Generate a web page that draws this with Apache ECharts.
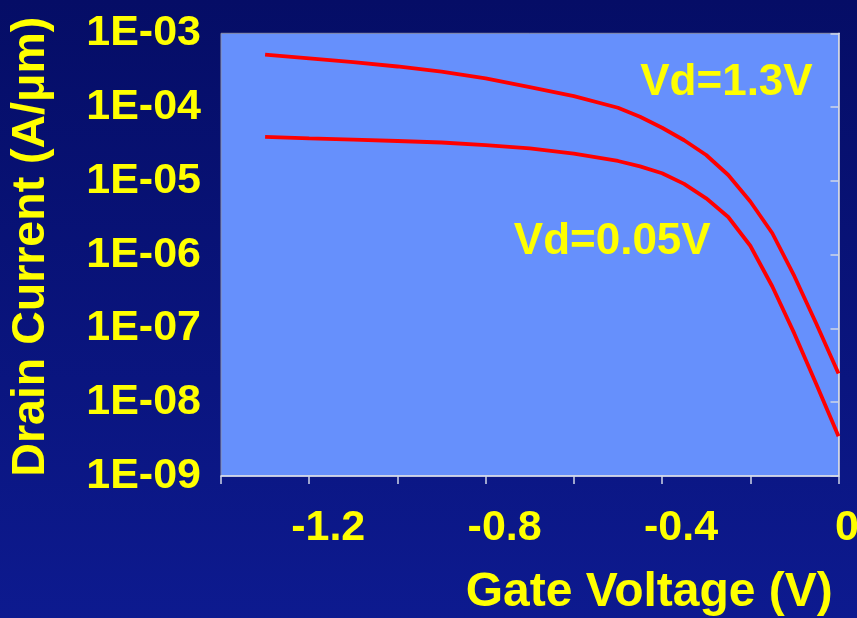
<!DOCTYPE html>
<html>
<head>
<meta charset="utf-8">
<script src="https://cdn.jsdelivr.net/npm/echarts@6/dist/echarts.min.js"></script>
<style>
  html, body { margin: 0; padding: 0; background: #08117a; }
  #chart { width: 857px; height: 618px; }
</style>
</head>
<body>
<div id="chart"></div>
<script>
// Gate voltage sweep (V)
const gateVoltage = [-1.3, -1.2, -1.1, -1.0, -0.9, -0.8, -0.7, -0.6, -0.5, -0.45,
                     -0.4, -0.35, -0.3, -0.25, -0.2, -0.15, -0.1, -0.05, 0];

// Drain current (A/um) at Vd = 1.3 V
const currentVd13 = [5.13e-4, 4.57e-4, 4.07e-4, 3.55e-4, 3.02e-4, 2.45e-4, 1.86e-4, 1.41e-4,
                     9.8e-5, 7.4e-5, 5.25e-5, 3.55e-5, 2.24e-5, 1.2e-5, 5.25e-6, 1.95e-6,
                     5.1e-7, 1.15e-7, 2.45e-8];

// Drain current (A/um) at Vd = 0.05 V
const currentVd005 = [3.94e-5, 3.76e-5, 3.63e-5, 3.47e-5, 3.31e-5, 3.05e-5, 2.75e-5, 2.34e-5,
                      1.86e-5, 1.57e-5, 1.27e-5, 9.1e-6, 5.8e-6, 3.24e-6, 1.32e-6, 3.7e-7,
                      8.5e-8, 1.74e-8, 3.47e-9];

// Labelled x ticks
const xTickLabels = ['-1.2', '-0.8', '-0.4', '0'];

const seriesNames = ['Vd=1.3V', 'Vd=0.05V'];

const FONT = '"Liberation Sans", Arial, sans-serif';
const YELLOW = '#ffff00';

function pairs(xs, ys) {
  return xs.map((x, i) => [x, ys[i]]);
}

function yLabel(v) {
  const e = Math.round(Math.log10(v));
  const a = Math.abs(e);
  return '1E' + (e < 0 ? '-' : '+') + (a < 10 ? '0' + a : String(a));
}

function xLabel(v) {
  const s = Math.abs(v) < 1e-9 ? '0' : v.toFixed(1);
  if (xTickLabels.indexOf(s) < 0) return '';
  return s === '0' ? '{z|0}' : '{n|' + s + '}';
}

const chart = echarts.init(document.getElementById('chart'), null, { renderer: 'canvas' });

const lineStyle = { color: '#ff0000', width: 3.8 };
const labelText = { color: YELLOW, fontFamily: FONT, fontWeight: 'bold', fontSize: 44 };

chart.setOption({
  animation: false,
  backgroundColor: {
    type: 'linear', x: 0, y: 0, x2: 0, y2: 1,
    colorStops: [{ offset: 0, color: '#050d66' }, { offset: 1, color: '#0d1a8f' }]
  },
  grid: {
    left: 221, right: 18.5, top: 33.3, bottom: 142,
    outerBoundsMode: 'none',
    containLabel: false,
    show: true,
    backgroundColor: '#6690fc',
    borderColor: '#8a8fa8',
    borderWidth: 1
  },
  xAxis: {
    type: 'value',
    min: -1.4, max: 0, interval: 0.2,
    axisLine: { onZero: false, lineStyle: { color: '#e8ecf4', width: 1.5 } },
    axisTick: { show: true, inside: false, length: 8, lineStyle: { color: '#d0d6e6', width: 1.5 } },
    splitLine: { show: false },
    axisLabel: {
      margin: 31,
      formatter: xLabel,
      showMinLabel: true, showMaxLabel: true,
      rich: {
        n: { color: YELLOW, fontFamily: FONT, fontWeight: 'bold', fontSize: 43, padding: [0, 0, 0, 38] },
        z: { color: YELLOW, fontFamily: FONT, fontWeight: 'bold', fontSize: 43, padding: [0, 0, 0, 17] }
      }
    },
    name: 'Gate Voltage (V)',
    nameLocation: 'middle',
    nameGap: 93,
    nameTextStyle: {
      color: YELLOW, fontFamily: FONT, fontWeight: 'bold', fontSize: 48,
      padding: [0, 0, 0, 239]
    }
  },
  yAxis: {
    type: 'log',
    logBase: 10,
    min: 1e-9, max: 1e-3,
    splitNumber: 6,
    axisLine: { show: true, lineStyle: { color: '#e8ecf4', width: 1.5 } },
    axisTick: { show: true, inside: false, length: 8, lineStyle: { color: '#d0d6e6', width: 1.5 } },
    splitLine: { show: false },
    minorTick: { show: false },
    axisLabel: {
      margin: 20,
      formatter: yLabel,
      color: YELLOW, fontFamily: FONT, fontWeight: 'bold', fontSize: 43
    },
    name: 'Drain Current (A/\u03bcm)',
    nameLocation: 'middle',
    nameRotate: 90,
    nameGap: 166,
    nameTextStyle: {
      color: YELLOW, fontFamily: FONT, fontWeight: 'bold', fontSize: 46.5,
      padding: [0, 0, 0, 16]
    }
  },
  series: [
    {
      name: seriesNames[0],
      type: 'line',
      data: pairs(gateVoltage, currentVd13),
      showSymbol: false,
      lineStyle: lineStyle,
      z: 3,
      markPoint: {
        symbol: 'circle', symbolSize: 0, silent: true,
        label: Object.assign({ show: true, position: 'inside', formatter: seriesNames[0] }, labelText),
        data: [{ coord: [-0.254, 2.15e-4] }]
      }
    },
    {
      name: seriesNames[1],
      type: 'line',
      data: pairs(gateVoltage, currentVd005),
      showSymbol: false,
      lineStyle: lineStyle,
      z: 3,
      markPoint: {
        symbol: 'circle', symbolSize: 0, silent: true,
        label: Object.assign({ show: true, position: 'inside', formatter: seriesNames[1] }, labelText),
        data: [{ coord: [-0.513, 1.51e-6] }]
      }
    }
  ]
});
</script>
</body>
</html>
